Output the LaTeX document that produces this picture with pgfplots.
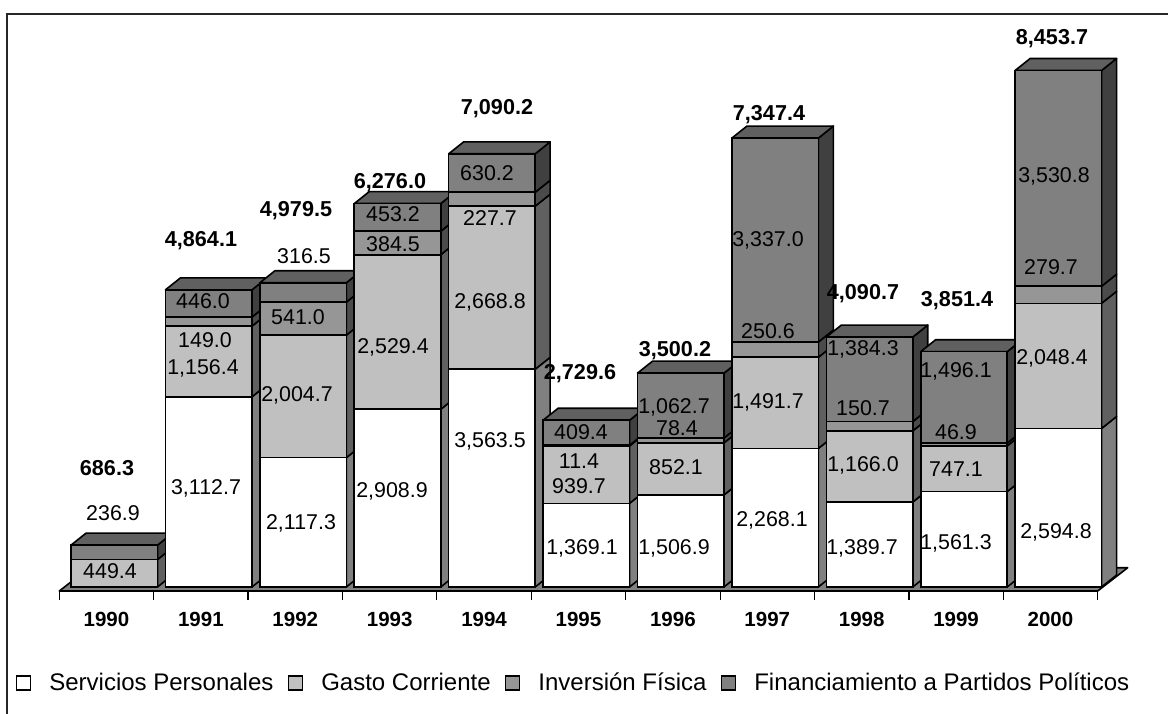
\documentclass[border=0pt]{standalone}
\usepackage{pgfplots}
\usepackage{pgfplotstable}
\pgfplotsset{compat=1.18}
\usepackage{fontspec}
\setmainfont{Liberation Sans}

\definecolor{spF}{HTML}{FFFFFF}
\definecolor{spS}{HTML}{808080}
\definecolor{gcF}{HTML}{C0C0C0}
\definecolor{gcS}{HTML}{606060}
\definecolor{ivF}{HTML}{969696}
\definecolor{ivS}{HTML}{4B4B4B}
\definecolor{fpF}{HTML}{808080}
\definecolor{fpS}{HTML}{404040}
\definecolor{fpT}{HTML}{606060}
\definecolor{floorC}{HTML}{808080}

\pgfplotstableread{
x sp gc iv fp
0 0 449.4 0 236.9
1 3112.7 1156.4 149.0 446.0
2 2117.3 2004.7 541.0 316.5
3 2908.9 2529.4 384.5 453.2
4 3563.5 2668.8 227.7 630.2
5 1369.1 939.7 11.4 409.4
6 1506.9 852.1 78.4 1062.7
7 2268.1 1491.7 250.6 3337.0
8 1389.7 1166.0 150.7 1384.3
9 1561.3 747.1 46.9 1496.1
10 2594.8 2048.4 279.7 3530.8
}\data

\def\bw{0.916}
\def\bs{0.083}
\def\dX{0.159}
\def\dY{196}

\newcommand\sideface[4]{%
  \pgfmathtruncatemacro\ok{((#3)-(#2))>0.01}%
  \ifnum\ok=1
    \pgfmathsetmacro\xr{#1+\bs+\bw/2}%
    \pgfmathsetmacro\xrr{\xr+\dX}%
    \pgfmathsetmacro\lo{#2}%
    \pgfmathsetmacro\loo{#2+\dY}%
    \pgfmathsetmacro\hi{#3}%
    \pgfmathsetmacro\hii{#3+\dY}%
    \edef\tmp{\noexpand\addplot[fill=#4,draw=black,line width=0.8pt,line join=round] coordinates {(\xr,\lo) (\xrr,\loo) (\xrr,\hii) (\xr,\hi)} -- cycle;}%
    \tmp
  \fi}
\newcommand\topface[3]{%
  \pgfmathsetmacro\xl{#1+\bs-\bw/2}%
  \pgfmathsetmacro\xr{#1+\bs+\bw/2}%
  \pgfmathsetmacro\xll{\xl+\dX}%
  \pgfmathsetmacro\xrr{\xr+\dX}%
  \pgfmathsetmacro\tp{#2}%
  \pgfmathsetmacro\tpp{#2+\dY}%
  \edef\tmp{\noexpand\addplot[fill=#3,draw=black,line width=0.8pt,line join=round] coordinates {(\xl,\tp) (\xr,\tp) (\xrr,\tpp) (\xll,\tpp)} -- cycle;}%
  \tmp}

\newcommand\lbl[3]{\node[font=\fontsize{10.7}{12}\selectfont,inner sep=0pt] at (axis cs:{(#1-59.3)/94.4-0.5},{(587-#2)/0.0611}) {#3};}
\newcommand\blbl[3]{\node[font=\bfseries\fontsize{10.8}{12}\selectfont,inner sep=0pt] at (axis cs:{(#1-59.3)/94.4-0.5},{(587-#2)/0.0611}) {#3};}

\pgfplotsset{common/.style={
  scale only axis, width=519.2pt, height=288.5pt,
  at={(0pt,0pt)}, anchor=south west,
  xmin=-0.5, xmax=10.5, ymin=-65.5, ymax=9378, clip=false}}

\begin{document}
\begin{tikzpicture}
\useasboundingbox (-29.65pt,-61pt) rectangle (554.35pt,295.5pt);
\draw[line width=1pt,black!85] (-26.15pt,-80pt) -- (-26.15pt,288.5pt) -- (570pt,288.5pt);
% floor, side and top faces
\begin{axis}[common, hide axis]
\addplot[fill=floorC,draw=black,line width=0.8pt,line join=round] coordinates {(-0.5,-65.5) (10.5,-65.5) (10.818,315.5) (-0.182,315.5)} -- cycle;
\pgfplotsforeachungrouped \i in {0,...,10}{%
  \pgfplotstablegetelem{\i}{sp}\of\data \let\va\pgfplotsretval
  \pgfplotstablegetelem{\i}{gc}\of\data \let\vb\pgfplotsretval
  \pgfplotstablegetelem{\i}{iv}\of\data \let\vc\pgfplotsretval
  \pgfplotstablegetelem{\i}{fp}\of\data \let\vd\pgfplotsretval
  \pgfmathsetmacro\ca{\va}%
  \pgfmathsetmacro\cb{\ca+\vb}%
  \pgfmathsetmacro\cc{\cb+\vc}%
  \pgfmathsetmacro\cd{\cc+\vd}%
  \sideface{\i}{0}{\ca}{spS}%
  \sideface{\i}{\ca}{\cb}{gcS}%
  \sideface{\i}{\cb}{\cc}{ivS}%
  \sideface{\i}{\cc}{\cd}{fpS}%
  \topface{\i}{\cd}{fpT}%
}
\end{axis}
% front faces
\begin{axis}[common,
  ybar stacked, bar width=0.916, bar shift=0.083,
  axis line style={draw=none},
  ytick=\empty,
  xtick={0,...,10},
  xticklabels={1990,1991,1992,1993,1994,1995,1996,1997,1998,1999,2000},
  major tick length=0pt,
  minor xtick={-0.5,0.5,...,10.5},
  minor tick length=4.5pt,
  tick align=outside,
  xtick pos=bottom,
  minor x tick style={black,line width=0.6pt},
  xticklabel style={font=\bfseries\fontsize{10.25}{12}\selectfont, anchor=base, yshift=-17.8pt},
  every axis plot/.append style={draw=black,line width=0.8pt},
  legend image code/.code={\draw[#1,line width=0.8pt] (0pt,-3.5pt) rectangle (7pt,3.5pt);},
  legend style={at={(0.4942,-0.1594)}, anchor=center, draw=none, fill=none,
    legend columns=4, font=\fontsize{12}{14}\selectfont,
    nodes={inner sep=0pt},
    /tikz/every odd column/.append style={column sep=9pt},
    /tikz/every even column/.append style={column sep=7.1pt}},
]
\addplot[fill=spF] table[x=x,y=sp] {\data};
\addplot[fill=gcF] table[x=x,y=gc] {\data};
\addplot[fill=ivF] table[x=x,y=iv] {\data};
\addplot[fill=fpF] table[x=x,y=fp] {\data};
\legend{Servicios Personales, Gasto Corriente, Inversión Física, Financiamiento a Partidos Políticos}
\end{axis}
% value labels
\begin{axis}[common, hide axis]
\blbl{107}{468}{686.3}
\lbl{113}{513}{236.9}
\lbl{110}{571}{449.4}
\blbl{201}{241}{4,864.1}
\lbl{203}{301}{446.0}
\lbl{205}{340}{149.0}
\lbl{203}{368}{1,156.4}
\lbl{206}{488}{3,112.7}
\blbl{296}{211}{4,979.5}
\lbl{304}{256}{316.5}
\lbl{298}{317}{541.0}
\lbl{297}{395}{2,004.7}
\lbl{301}{523}{2,117.3}
\blbl{390}{183}{6,276.0}
\lbl{393}{214}{453.2}
\lbl{393}{244}{384.5}
\lbl{393}{347}{2,529.4}
\lbl{392}{491}{2,908.9}
\blbl{497}{109}{7,090.2}
\lbl{487}{173}{630.2}
\lbl{490}{218}{227.7}
\lbl{490}{302}{2,668.8}
\lbl{490}{441}{3,563.5}
\blbl{580}{374}{2,729.6}
\lbl{581}{432}{409.4}
\lbl{579}{461}{11.4}
\lbl{579}{486}{939.7}
\lbl{582}{548}{1,369.1}
\blbl{675}{351}{3,500.2}
\lbl{674}{407}{1,062.7}
\lbl{677}{428}{78.4}
\lbl{676}{467}{852.1}
\lbl{674}{548}{1,506.9}
\blbl{769}{115}{7,347.4}
\lbl{768}{240}{3,337.0}
\lbl{768}{331}{250.6}
\lbl{768}{402}{1,491.7}
\lbl{772}{520}{2,268.1}
\blbl{863}{294}{4,090.7}
\lbl{863}{349}{1,384.3}
\lbl{863}{408}{150.7}
\lbl{863}{465}{1,166.0}
\lbl{862}{548}{1,389.7}
\blbl{957}{301}{3,851.4}
\lbl{956}{371}{1,496.1}
\lbl{956}{432}{46.9}
\lbl{956}{469}{747.1}
\lbl{956}{543}{1,561.3}
\blbl{1052}{39}{8,453.7}
\lbl{1054}{176}{3,530.8}
\lbl{1051}{267}{279.7}
\lbl{1052}{358}{2,048.4}
\lbl{1056}{532}{2,594.8}
\end{axis}
\end{tikzpicture}
\end{document}
